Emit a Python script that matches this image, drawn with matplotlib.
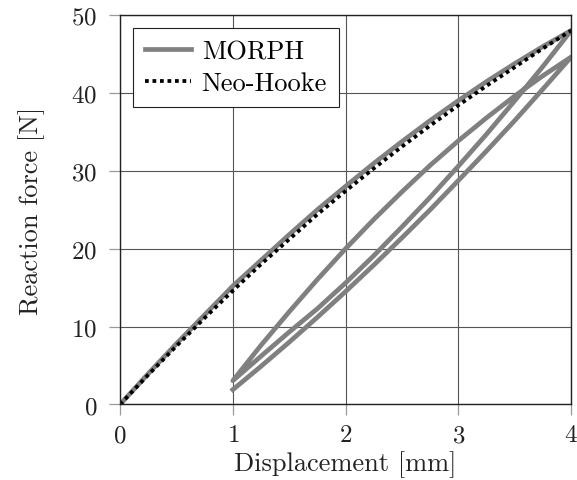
import numpy
import matplotlib
matplotlib.use( "Agg" )
import matplotlib.pyplot as pyplot


pyplot.rcParams["font.family"] = "cmr10"
pyplot.rcParams["mathtext.fontset"] = "cm"
pyplot.rcParams["axes.formatter.use_mathtext"] = True

# --- Data ---
# Loading branch 0 -> 4 mm
loadDisplacement = [0.0, 0.25, 0.5, 0.75, 1.0, 1.25, 1.5, 1.75, 2.0,
                    2.25, 2.5, 2.75, 3.0, 3.25, 3.5, 3.75, 4.0]
morphLoad        = [0.0, 3.95, 7.8, 11.5, 15.2, 18.5, 21.8, 25.0, 28.0,
                    30.95, 33.75, 36.45, 39.0, 41.45, 43.75, 45.95, 48.0]
neoHookeLoad     = [0.0, 3.8, 7.5, 11.1, 14.6, 18.0, 21.2, 24.4, 27.4,
                    30.3, 33.1, 35.8, 38.4, 40.9, 43.3, 45.7, 48.0]

# First unloading 4 -> 1 mm
unload1Displacement = [4.0, 3.75, 3.5, 3.25, 3.0, 2.75, 2.5, 2.25, 2.0, 1.75, 1.5, 1.25, 1.0]
morphUnload1        = [48.0, 43.4, 39.0, 34.7, 30.6, 26.6, 22.8, 19.1, 15.6, 12.3, 9.3, 6.2, 3.05]

# Reloading 1 -> 4 mm
reloadDisplacement = [1.0, 1.25, 1.5, 1.75, 2.0, 2.25, 2.5, 2.75, 3.0, 3.25, 3.5, 3.75, 4.0]
morphReload        = [3.05, 7.6, 11.9, 16.05, 20.0, 23.75, 27.3, 30.7, 33.85, 36.8, 39.6, 42.2, 44.6]

# Second unloading 4 -> 1 mm
unload2Displacement = [4.0, 3.75, 3.5, 3.25, 3.0, 2.75, 2.5, 2.25, 2.0, 1.75, 1.5, 1.25, 1.0]
morphUnload2        = [44.6, 40.5, 36.45, 32.55, 28.75, 25.0, 21.4, 17.9, 14.5, 11.2, 8.0, 4.9, 1.9]

xTicks = [0, 1, 2, 3, 4]
yTicks = [0, 10, 20, 30, 40, 50]

morphPath = numpy.concatenate( [ morphLoad, morphUnload1[1:], morphReload[1:], morphUnload2[1:] ] )
morphDisplacement = numpy.concatenate( [ loadDisplacement, unload1Displacement[1:], reloadDisplacement[1:], unload2Displacement[1:] ] )

gray = numpy.asarray( [128,128,128] ) / 255.0

figure = pyplot.figure( figsize=(5.77, 4.81), dpi=100 )
axis = figure.add_axes( [0.208, 0.157, 0.782, 0.810] )

axis.plot(
    morphDisplacement, morphPath,
    "-",
    color=gray,
    linewidth=3.4,
    solid_joinstyle="round",
    label="MORPH"
)

axis.plot(
    loadDisplacement, neoHookeLoad,
    linestyle=(0, (1, 1)),
    color="black",
    linewidth=2.7,
    dash_capstyle="butt",
    label="Neo-Hooke"
)

axis.set_xlim( 0, 4 )
axis.set_ylim( 0, 50 )
axis.set_xticks( xTicks )
axis.set_yticks( yTicks )
axis.grid( True, color="#555555", linewidth=0.8 )
axis.set_axisbelow( True )

for spine in axis.spines.values():
    spine.set_linewidth( 1.0 )
    spine.set_color( "#222222" )

axis.tick_params(
    direction="out", length=8, width=0.9, color="#999999",
    labelsize=18, labelcolor="#222222"
)
axis.tick_params( axis="x", pad=6 )
axis.tick_params( axis="y", pad=8.5 )

axis.set_xlabel( "Displacement [mm]", fontsize=19, color="#222222", labelpad=3 )
axis.set_ylabel( "Reaction force [N]", fontsize=19, color="#222222", labelpad=19 )

legend = axis.legend(
    loc="upper left", bbox_to_anchor=(0.029, 0.967),
    fontsize=19, frameon=True, fancybox=False, framealpha=1.0,
    edgecolor="#222222", handlelength=1.75, handletextpad=0.4,
    borderpad=0.45, labelspacing=0.3, borderaxespad=0.0
)
legend.get_frame().set_linewidth( 0.8 )

figure.savefig( "out.png", dpi=100 )
